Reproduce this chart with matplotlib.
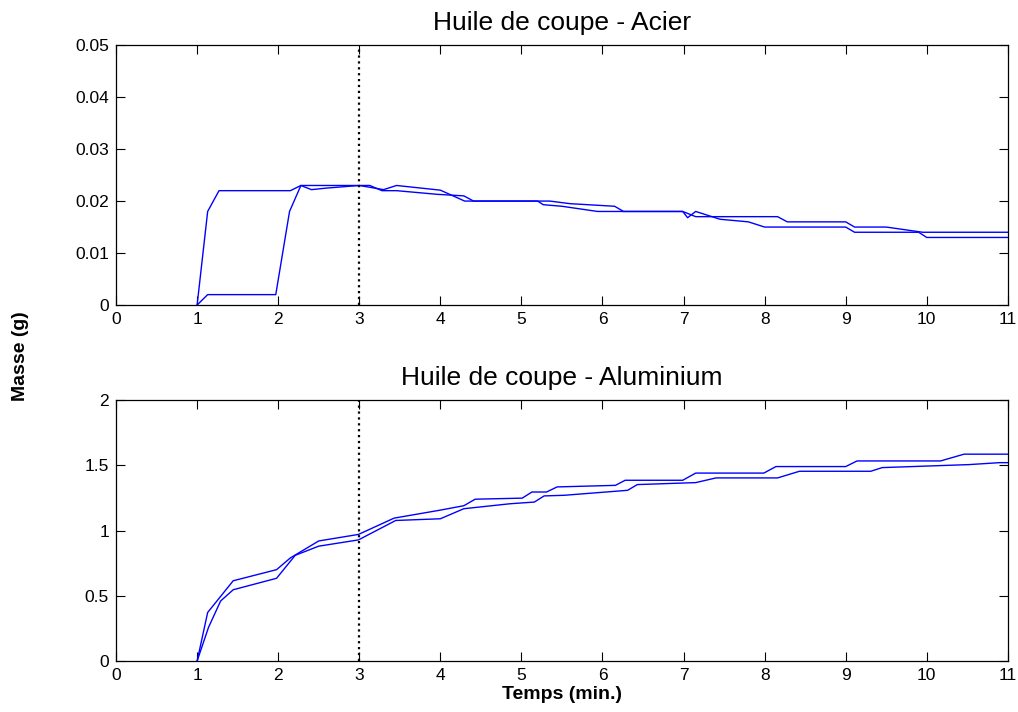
import numpy as np
import matplotlib.pyplot as plt

plt.rcParams['font.family'] = ['Liberation Sans', 'DejaVu Sans']

# Huile de coupe - Acier (deux essais)
t_acier_1 = [1.0, 1.13, 1.27, 2.15, 2.28, 3.13, 3.28, 3.46, 3.96, 4.29, 4.41, 5.2, 5.27,
             5.5, 5.94, 6.99, 7.15, 8.16, 8.28, 9.0, 9.11, 9.5, 9.95, 11.0]
m_acier_1 = [0.0, 0.018, 0.022, 0.022, 0.023, 0.023, 0.022, 0.022, 0.0213, 0.021, 0.020, 0.020, 0.0193,
             0.019, 0.018, 0.018, 0.017, 0.017, 0.016, 0.016, 0.015, 0.015, 0.014, 0.014]

t_acier_2 = [1.0, 1.13, 1.97, 2.14, 2.28, 2.41, 2.6, 3.0, 3.3, 3.46, 3.7, 4.0, 4.3, 4.45,
             5.35, 5.6, 6.15, 6.26, 6.99, 7.05, 7.15, 7.45, 7.8, 8.0, 9.0, 9.11, 9.9, 10.0, 11.0]
m_acier_2 = [0.0, 0.002, 0.002, 0.018, 0.023, 0.0222, 0.0225, 0.023, 0.0222, 0.023, 0.0226, 0.0221, 0.020, 0.020,
             0.020, 0.0195, 0.019, 0.018, 0.018, 0.0168, 0.018, 0.0165, 0.016, 0.015, 0.015, 0.014, 0.014, 0.013, 0.013]

# Huile de coupe - Aluminium (deux essais)
t_alu_1 = [1.0, 1.13, 1.445, 1.98, 2.15, 2.5, 2.99, 3.43, 3.98, 4.29, 4.43, 5.01, 5.13, 5.31, 5.44,
           6.16, 6.28, 6.99, 7.15, 7.99, 8.14, 9.0, 9.14, 10.17, 10.46, 11.0]
m_alu_1 = [0.0, 0.372, 0.615, 0.70, 0.79, 0.92, 0.97, 1.095, 1.154, 1.19, 1.24, 1.248, 1.295, 1.295, 1.334,
           1.346, 1.385, 1.385, 1.44, 1.44, 1.49, 1.49, 1.533, 1.533, 1.585, 1.585]

t_alu_2 = [1.0, 1.14, 1.29, 1.445, 1.98, 2.21, 2.5, 2.99, 3.45, 4.0, 4.29, 4.86, 5.16, 5.28, 5.53,
           6.31, 6.43, 7.15, 7.4, 8.16, 8.43, 9.31, 9.45, 10.52, 10.9, 11.0]
m_alu_2 = [0.0, 0.257, 0.46, 0.546, 0.634, 0.81, 0.88, 0.928, 1.077, 1.09, 1.167, 1.205, 1.218, 1.265, 1.27,
           1.308, 1.352, 1.367, 1.403, 1.403, 1.454, 1.454, 1.482, 1.505, 1.52, 1.52]

x_ticks = list(range(0, 12))
y_ticks_acier = [0, 0.01, 0.02, 0.03, 0.04, 0.05]
y_labels_acier = ['0', '0.01', '0.02', '0.03', '0.04', '0.05']
y_ticks_alu = [0, 0.5, 1, 1.5, 2]
y_labels_alu = ['0', '0.5', '1', '1.5', '2']
t_marque = 3

fig = plt.figure(figsize=(10.18, 7.12), dpi=100)
ax1 = fig.add_axes([0.114, 0.5716, 0.876, 0.365])
ax2 = fig.add_axes([0.114, 0.0716, 0.876, 0.3666])


def style_axes(ax, yticks, ylabels, ymax, title):
    ax.set_xlim(0, 11)
    ax.set_ylim(0, ymax)
    ax.set_xticks(x_ticks)
    ax.set_xticklabels([str(v) for v in x_ticks])
    ax.set_yticks(yticks)
    ax.set_yticklabels(ylabels)
    ax.tick_params(direction='in', length=6.5, width=0.8, top=True, right=True,
                   labelsize=12.5, pad=5, colors='black')
    for s in ax.spines.values():
        s.set_linewidth(0.9)
    ax.set_title(title, fontsize=19, pad=11)
    ax.axvline(t_marque, color='black', linestyle=':', linewidth=1.6)


ax1.plot(t_acier_1, m_acier_1, color='#0000ff', linewidth=1)
ax1.plot(t_acier_2, m_acier_2, color='#0000ff', linewidth=1)
style_axes(ax1, y_ticks_acier, y_labels_acier, 0.05, 'Huile de coupe - Acier')

ax2.plot(t_alu_1, m_alu_1, color='#0000ff', linewidth=1)
ax2.plot(t_alu_2, m_alu_2, color='#0000ff', linewidth=1)
style_axes(ax2, y_ticks_alu, y_labels_alu, 2, 'Huile de coupe - Aluminium')
ax2.set_xlabel('Temps (min.)', fontsize=14, fontweight='bold', labelpad=2)

fig.text(0.02, 0.5, 'Masse (g)', rotation=90, fontsize=14, fontweight='bold',
         ha='center', va='center')

fig.savefig('out.png', dpi=100)
